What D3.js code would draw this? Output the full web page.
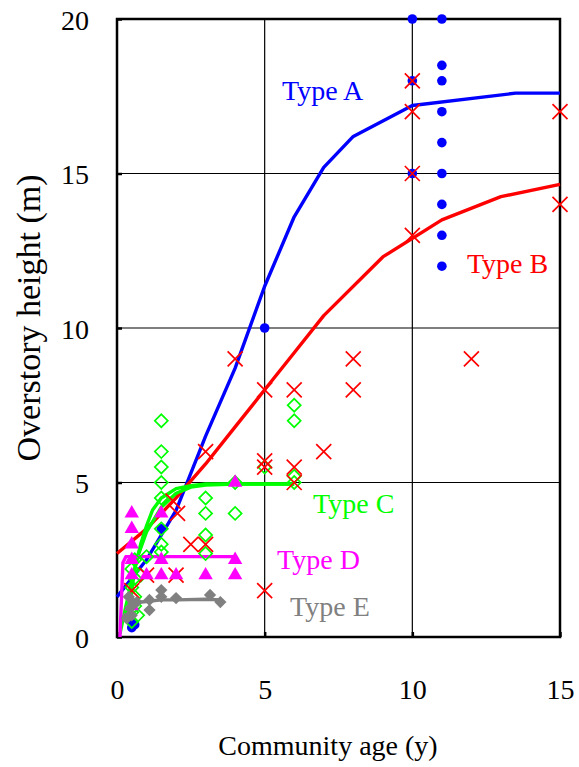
<!DOCTYPE html>
<html><head><meta charset="utf-8">
<script src="https://cdn.jsdelivr.net/npm/d3@7/dist/d3.min.js"></script>
<style>body{margin:0;background:#fff}svg{display:block}</style>
</head><body><svg id="c" width="579" height="767"></svg>
<script>
// ---- data ----
const xTicks = [0, 5, 10, 15];
const yTicks = [0, 5, 10, 15, 20];

// Type A (blue circles)
const aX = [10, 11, 11, 11, 10, 11, 11, 11, 10, 11, 11, 11, 5, 1.5, 0.5, 0.5, 0.6];
const aY = [20, 20, 18.5, 18, 18, 17, 16, 15, 15, 14, 13, 12, 10, 3.5, 0.3, 0.5, 0.4];
// Type B (red crosses)
const bX = [10, 10, 15, 10, 15, 10, 12, 8, 8, 4, 5, 6, 7, 5, 5, 6, 6, 5, 3, 1.9, 2.05, 2.5, 3, 1, 2, 0.5];
const bY = [18, 17, 17, 15, 14, 13, 9, 9, 8, 9, 8, 8, 6, 5.7, 5.5, 5.5, 5, 1.5, 6, 4.4, 4.0, 3, 3, 2, 2, 1.5];
// Type C (green open diamonds)
const cX = [1.5, 1.5, 1.5, 1.5, 1.5, 1.5, 1.5, 1.5, 3, 3, 3, 3, 4, 4, 6, 6, 5, 6, 6,
            0.5, 0.5, 0.6, 0.6, 0.5, 0.6, 0.5, 0.6, 0.7, 0.8, 1.0];
const cY = [7, 6, 5.5, 5, 4.5, 3.5, 3, 2.75, 4.5, 4, 3.3, 2.7, 4, 5, 7.5, 7, 5.5, 5.2, 5,
            0.5, 0.8, 1.0, 1.3, 1.6, 1.9, 2.2, 2.5, 0.7, 2.0, 2.6];
// Type D (magenta triangles)
const dX = [0.5, 0.5, 0.5, 0.5, 0.5, 1.5, 1.5, 1.5, 1, 2, 3, 4, 4, 4, 0.5];
const dY = [4, 3.5, 3, 2.5, 2, 4, 2.5, 2, 2, 2, 2, 2, 2.5, 5, 1.0];
// Type E (grey filled diamonds)
const eX = [0.33, 0.45, 0.55, 0.67, 0.4, 1.1, 1.1, 1.5, 1.5, 2, 3.15, 3.5, 0.5];
const eY = [0.6, 0.95, 1.1, 1.13, 1.3, 1.2, 0.87, 1.52, 1.3, 1.26, 1.36, 1.13, 0.7];

// fitted curves
const lineAX = [0, 1, 2, 3, 4, 5, 6, 7, 8, 10, 13.5, 15];
const lineAY = [1.3, 2.5, 4.1, 6.5, 8.7, 11.35, 13.6, 15.2, 16.2, 17.2, 17.6, 17.6];
const lineBX = [0, 1, 2, 3, 4, 5, 6, 7, 9, 11, 13, 15];
const lineBY = [2.7, 3.5, 4.5, 5.6, 6.8, 8.0, 9.2, 10.4, 12.3, 13.5, 14.25, 14.65];
const lineC1X = [0.1, 0.3, 0.5, 0.7, 1.0, 1.5, 2.0, 2.5, 3.0, 4.0, 6.0];
const lineC1Y = [0.1, 1.0, 1.8, 2.6, 3.4, 4.2, 4.65, 4.85, 4.92, 4.95, 4.95];
const lineC2X = [0.4, 0.5, 0.6, 0.8, 1.0, 1.2, 1.5, 2.0, 2.5, 3.0, 6.0];
const lineC2Y = [0.5, 1.5, 2.2, 3.0, 3.6, 4.1, 4.5, 4.8, 4.9, 4.95, 4.95];
const lineDX = [0.1, 0.2, 0.3, 4.0];
const lineDY = [0, 2.4, 2.6, 2.6];
const lineEX = [0.2, 0.5, 1, 1.5, 2, 3, 3.5];
const lineEY = [0.6, 1.1, 1.15, 1.2, 1.2, 1.22, 1.2];

const labels = ["Type A", "Type B", "Type C", "Type D", "Type E"];
const labelX = [5.59, 11.85, 6.64, 5.42, 5.86];
const labelY = [17.38, 11.78, 4.01, 2.2, 0.68];

// ---- drawing ----
const FONT = "Liberation Serif";
const svg = d3.select("#c");
const L = 117, T = 19, R = 560, B = 637;
const x = d3.scaleLinear().domain([0, 15]).range([L, R]);
const y = d3.scaleLinear().domain([0, 20]).range([B, T]);
const BLUE = "#0000ff", RED = "#ff0000", GREEN = "#00ff00", MAG = "#ff00ff", GREY = "#808080";

// grid
const g = svg.append("g");
g.selectAll(".gx").data(xTicks.slice(1, -1)).enter().append("line")
  .attr("x1", d => x(d)).attr("x2", d => x(d)).attr("y1", T).attr("y2", B)
  .attr("stroke", "#000").attr("stroke-width", 1.2);
g.selectAll(".gy").data(yTicks.slice(1, -1)).enter().append("line")
  .attr("y1", d => y(d)).attr("y2", d => y(d)).attr("x1", L).attr("x2", R)
  .attr("stroke", "#000").attr("stroke-width", 1.2);

// axes
const xAxis = d3.axisBottom(x).tickValues(xTicks).tickSize(-5).tickPadding(42);
const yAxis = d3.axisLeft(y).tickValues(yTicks).tickSize(-5).tickPadding(28);
const xa = svg.append("g").attr("transform", `translate(0,${B})`).call(xAxis);
const ya = svg.append("g").attr("transform", `translate(${L},0)`).call(yAxis);
[xa, ya].forEach(a => {
  a.attr("font-size", 28).style("font-family", FONT);
  a.select(".domain").remove();
  a.selectAll(".tick line").attr("stroke", "#000").attr("stroke-width", 2.5);
  a.selectAll(".tick text").attr("fill", "#000").style("font-family", FONT).style("font-size", "28px");
});
ya.selectAll(".tick text").attr("dy", "0.36em");
xa.selectAll(".tick text").attr("dy", "0.72em");

// frame
svg.append("rect").attr("x", L).attr("y", T).attr("width", R - L).attr("height", B - T)
  .attr("fill", "none").attr("stroke", "#000").attr("stroke-width", 2.5);

// lines
const line = d3.line().x(d => x(d[0])).y(d => y(d[1]));
function drawLine(xs, ys, col) {
  svg.append("path").datum(xs.map((v, i) => [v, ys[i]]))
    .attr("d", line).attr("fill", "none").attr("stroke", col)
    .attr("stroke-width", 3.4).attr("stroke-linejoin", "round");
}
drawLine(lineAX, lineAY, BLUE);
drawLine(lineBX, lineBY, RED);
drawLine(lineC1X, lineC1Y, GREEN);
drawLine(lineC2X, lineC2Y, GREEN);
drawLine(lineDX, lineDY, MAG);
drawLine(lineEX, lineEY, GREY);

function pts(xs, ys) { return xs.map((v, i) => [v, ys[i]]); }

// blue circles
svg.append("g").selectAll("circle").data(pts(aX, aY)).enter().append("circle")
  .attr("cx", d => x(d[0])).attr("cy", d => y(d[1])).attr("r", 4.8).attr("fill", BLUE);

// green open diamonds
const diamond = d3.symbol().type(d3.symbolSquare).size(85);
svg.append("g").selectAll("path").data(pts(cX, cY)).enter().append("path")
  .attr("d", diamond)
  .attr("transform", d => `translate(${x(d[0])},${y(d[1])}) rotate(45)`)
  .attr("fill", "none").attr("stroke", GREEN).attr("stroke-width", 1.7);

// red crosses
const cg = svg.append("g");
pts(bX, bY).forEach(d => {
  const cx = x(d[0]), cy = y(d[1]), s = 7.5;
  cg.append("path").attr("d", `M${cx - s},${cy - s}L${cx + s},${cy + s}M${cx - s},${cy + s}L${cx + s},${cy - s}`)
    .attr("stroke", RED).attr("stroke-width", 1.7).attr("fill", "none");
});

// magenta triangles
const tri = d3.symbol().type(d3.symbolTriangle).size(90);
svg.append("g").selectAll("path").data(pts(dX, dY)).enter().append("path")
  .attr("d", tri).attr("transform", d => `translate(${x(d[0])},${y(d[1])})`)
  .attr("fill", MAG);

// grey filled diamonds
const dia2 = d3.symbol().type(d3.symbolSquare).size(75);
svg.append("g").selectAll("path").data(pts(eX, eY)).enter().append("path")
  .attr("d", dia2).attr("transform", d => `translate(${x(d[0])},${y(d[1])}) rotate(45)`)
  .attr("fill", GREY);

// type labels
const cols = [BLUE, RED, GREEN, MAG, GREY];
svg.append("g").selectAll("text").data(labels).enter().append("text")
  .attr("x", (d, i) => x(labelX[i])).attr("y", (d, i) => y(labelY[i]))
  .attr("fill", (d, i) => cols[i]).style("font-size", "28px").style("font-family", FONT).text(d => d);

// axis titles
svg.append("text").attr("x", 328).attr("y", 755).attr("text-anchor", "middle")
  .style("font-size", "28px").style("font-family", FONT).text("Community age (y)");
svg.append("text").attr("transform", `translate(40,318) rotate(-90)`)
  .attr("text-anchor", "middle").style("font-size", "34px").style("font-family", FONT).text("Overstory height (m)");
</script></body></html>
